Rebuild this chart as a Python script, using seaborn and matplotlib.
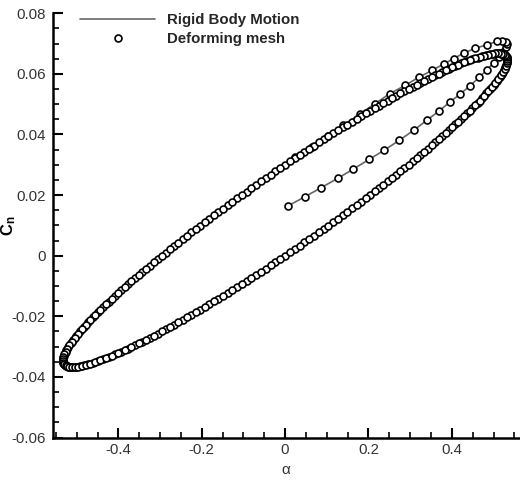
import matplotlib
matplotlib.use("Agg")
import matplotlib.pyplot as plt
import pandas as pd
import seaborn as sns
from matplotlib.ticker import MultipleLocator, FixedLocator, FixedFormatter
from matplotlib.lines import Line2D

# ---- data ----
# start-up transient and first (outer) upper branch
alpha_first = [0.008, 0.047, 0.086, 0.126, 0.164, 0.202, 0.238, 0.274, 0.308, 0.340,
               0.370, 0.396, 0.420, 0.444, 0.466, 0.485, 0.500, 0.513, 0.523, 0.530,
               0.533, 0.530, 0.521, 0.508, 0.484, 0.456, 0.428, 0.404, 0.380, 0.352,
               0.320, 0.288, 0.252, 0.216, 0.180, 0.140, 0.104, 0.064, 0.024]
cn_first = [0.0165, 0.0194, 0.0224, 0.0255, 0.0286, 0.0318, 0.0348, 0.0381, 0.0413, 0.0447,
            0.0478, 0.0508, 0.0533, 0.0561, 0.0589, 0.0614, 0.0636, 0.0656, 0.0673, 0.0687,
            0.0698, 0.0706, 0.0709, 0.0707, 0.0696, 0.0684, 0.0668, 0.0650, 0.0632, 0.0611,
            0.0588, 0.0562, 0.0535, 0.0502, 0.0468, 0.0430, 0.0396, 0.0358, 0.0324]

# periodic hysteresis loop, cycle A
alpha_loop = [
    0.0, 0.0232, 0.0465, 0.0696, 0.0925, 0.1153, 0.1379, 0.1603, 0.1823, 0.2040,
    0.2253, 0.2461, 0.2665, 0.2864, 0.3057, 0.3245, 0.3426, 0.3601, 0.3769, 0.3930,
    0.4083, 0.4229, 0.4366, 0.4495, 0.4616, 0.4728, 0.4831, 0.4924, 0.5009, 0.5083,
    0.5148, 0.5204, 0.5249, 0.5284, 0.5310, 0.5325, 0.5330,
    0.5325, 0.5310, 0.5284, 0.5249, 0.5204, 0.5148, 0.5083, 0.5009, 0.4924, 0.4831,
    0.4728, 0.4616, 0.4495, 0.4366, 0.4229, 0.4083, 0.3930, 0.3769, 0.3601, 0.3426,
    0.3245, 0.3057, 0.2864, 0.2665, 0.2461, 0.2253, 0.2040, 0.1823, 0.1603, 0.1379,
    0.1153, 0.0925, 0.0696, 0.0465, 0.0232, 0.0,
    -0.0232, -0.0465, -0.0696, -0.0925, -0.1153, -0.1379, -0.1603, -0.1823, -0.2040, -0.2253,
    -0.2461, -0.2665, -0.2864, -0.3057, -0.3245, -0.3426, -0.3601, -0.3769, -0.3930, -0.4083,
    -0.4229, -0.4366, -0.4495, -0.4616, -0.4728, -0.4831, -0.4924, -0.5009, -0.5083, -0.5148,
    -0.5204, -0.5249, -0.5284, -0.5310, -0.5325, -0.5330,
    -0.5325, -0.5310, -0.5284, -0.5249, -0.5204, -0.5148, -0.5083, -0.5009, -0.4924, -0.4831,
    -0.4728, -0.4616, -0.4495, -0.4366, -0.4229, -0.4083, -0.3930, -0.3769, -0.3601, -0.3426,
    -0.3245, -0.3057, -0.2864, -0.2665, -0.2461, -0.2253, -0.2040, -0.1823, -0.1603, -0.1379,
    -0.1153, -0.0925, -0.0696, -0.0465, -0.0232]
cn_loop = [
    0.0, 0.00217, 0.00438, 0.00659, 0.00883, 0.01108, 0.01333, 0.01558, 0.01784, 0.02009,
    0.02234, 0.02455, 0.02677, 0.02896, 0.03111, 0.03325, 0.03534, 0.0374, 0.03941, 0.04138,
    0.04329, 0.04516, 0.04697, 0.04871, 0.05038, 0.05199, 0.05354, 0.05501, 0.0564, 0.05772,
    0.05895, 0.0601, 0.06117, 0.06213, 0.06302, 0.06382, 0.06452,
    0.06512, 0.06564, 0.06605, 0.06637, 0.0666, 0.06671, 0.06674, 0.06666, 0.06649, 0.06622,
    0.06585, 0.06538, 0.06483, 0.06417, 0.06342, 0.06257, 0.06164, 0.06063, 0.05952, 0.05832,
    0.05705, 0.05569, 0.05426, 0.05275, 0.05117, 0.04952, 0.04781, 0.04604, 0.0442, 0.04231,
    0.04036, 0.03837, 0.03633, 0.03426, 0.03215, 0.03,
    0.02783, 0.02562, 0.02341, 0.02117, 0.01892, 0.01667, 0.01442, 0.01216, 0.00991, 0.00766,
    0.00545, 0.00323, 0.00104, -0.00111, -0.00325, -0.00534, -0.0074, -0.00941, -0.01138, -0.01329,
    -0.01516, -0.01697, -0.01871, -0.02038, -0.02199, -0.02354, -0.02501, -0.0264, -0.02772, -0.02895,
    -0.0301, -0.03117, -0.03213, -0.03302, -0.03382, -0.03452,
    -0.03512, -0.03564, -0.03605, -0.03637, -0.0366, -0.03671, -0.03674, -0.03666, -0.03649, -0.03622,
    -0.03585, -0.03538, -0.03483, -0.03417, -0.03342, -0.03257, -0.03164, -0.03063, -0.02952, -0.02832,
    -0.02705, -0.02569, -0.02426, -0.02275, -0.02117, -0.01952, -0.01781, -0.01604, -0.0142, -0.01231,
    -0.01036, -0.00837, -0.00633, -0.00426, -0.00215]

# periodic hysteresis loop, cycle B (samples fall between those of cycle A)
alpha_loop2 = [
    0.0116, 0.0349, 0.0580, 0.0811, 0.1040, 0.1267, 0.1491, 0.1713, 0.1932, 0.2146,
    0.2357, 0.2564, 0.2765, 0.2961, 0.3152, 0.3336, 0.3514, 0.3686, 0.3850, 0.4007,
    0.4157, 0.4298, 0.4432, 0.4557, 0.4673, 0.4780, 0.4879, 0.4968, 0.5047, 0.5117,
    0.5177, 0.5228, 0.5268, 0.5299, 0.5319, 0.5329,
    0.5329, 0.5319, 0.5299, 0.5268, 0.5228, 0.5177, 0.5117, 0.5047, 0.4968, 0.4879,
    0.4780, 0.4673, 0.4557, 0.4432, 0.4298, 0.4157, 0.4007, 0.3850, 0.3686, 0.3514,
    0.3336, 0.3152, 0.2961, 0.2765, 0.2564, 0.2357, 0.2146, 0.1932, 0.1713, 0.1491,
    0.1267, 0.1040, 0.0811, 0.0580, 0.0349, 0.0116,
    -0.0116, -0.0349, -0.0580, -0.0811, -0.1040, -0.1267, -0.1491, -0.1713, -0.1932, -0.2146,
    -0.2357, -0.2564, -0.2765, -0.2961, -0.3152, -0.3336, -0.3514, -0.3686, -0.3850, -0.4007,
    -0.4157, -0.4298, -0.4432, -0.4557, -0.4673, -0.4780, -0.4879, -0.4968, -0.5047, -0.5117,
    -0.5177, -0.5228, -0.5268, -0.5299, -0.5319, -0.5329,
    -0.5329, -0.5319, -0.5299, -0.5268, -0.5228, -0.5177, -0.5117, -0.5047, -0.4968, -0.4879,
    -0.4780, -0.4673, -0.4557, -0.4432, -0.4298, -0.4157, -0.4007, -0.3850, -0.3686, -0.3514,
    -0.3336, -0.3152, -0.2961, -0.2765, -0.2564, -0.2357, -0.2146, -0.1932, -0.1713, -0.1491,
    -0.1267, -0.1040, -0.0811, -0.0580, -0.0349, -0.0116]
cn_loop2 = [
    0.00108, 0.00327, 0.00548, 0.0077, 0.00995, 0.0122, 0.01446, 0.01672, 0.01897, 0.02121,
    0.02345, 0.02567, 0.02787, 0.03004, 0.03219, 0.03429, 0.03637, 0.0384, 0.0404, 0.04234,
    0.04423, 0.04606, 0.04785, 0.04955, 0.05119, 0.05278, 0.05429, 0.05571, 0.05707, 0.05834,
    0.05953, 0.06064, 0.06167, 0.0626, 0.06344, 0.06418,
    0.06484, 0.0654, 0.06586, 0.06623, 0.0665, 0.06667, 0.06674, 0.06671, 0.06659, 0.06637,
    0.06604, 0.06563, 0.06511, 0.06451, 0.0638, 0.06301, 0.06212, 0.06114, 0.06008, 0.05893,
    0.05769, 0.05639, 0.05498, 0.05351, 0.05197, 0.05035, 0.04867, 0.04693, 0.04512, 0.04326,
    0.04134, 0.03937, 0.03736, 0.0353, 0.03321, 0.03108,
    0.02892, 0.02673, 0.02452, 0.0223, 0.02005, 0.0178, 0.01554, 0.01328, 0.01103, 0.00879,
    0.00655, 0.00433, 0.00213, -0.00004, -0.00219, -0.00429, -0.00637, -0.0084, -0.0104, -0.01234,
    -0.01423, -0.01606, -0.01785, -0.01955, -0.02119, -0.02278, -0.02429, -0.02571, -0.02707, -0.02834,
    -0.02953, -0.03064, -0.03167, -0.0326, -0.03344, -0.03418,
    -0.03484, -0.0354, -0.03586, -0.03623, -0.0365, -0.03667, -0.03674, -0.03671, -0.03659, -0.03637,
    -0.03604, -0.03563, -0.03511, -0.03451, -0.0338, -0.03301, -0.03212, -0.03114, -0.03008, -0.02893,
    -0.02769, -0.02639, -0.02498, -0.02351, -0.02197, -0.02035, -0.01867, -0.01693, -0.01512, -0.01326,
    -0.01134, -0.00937, -0.00736, -0.0053, -0.00321, -0.00108]

xtick_values = [-0.4, -0.2, 0.0, 0.2, 0.4]
xtick_labels = ["-0.4", "-0.2", "0", "0.2", "0.4"]
ytick_values = [-0.06, -0.04, -0.02, 0.0, 0.02, 0.04, 0.06, 0.08]
ytick_labels = ["-0.06", "-0.04", "-0.02", "0", "0.02", "0.04", "0.06", "0.08"]
series_names = ["Rigid Body Motion", "Deforming mesh"]

# ---- style ----
sns.set_theme(style="ticks")
plt.rcParams["font.family"] = ["Liberation Sans", "DejaVu Sans"]
plt.rcParams["mathtext.fontset"] = "custom"
plt.rcParams["mathtext.rm"] = "Liberation Sans"
plt.rcParams["mathtext.bf"] = "Liberation Sans:bold"
plt.rcParams["mathtext.it"] = "Liberation Sans:italic"

LINE_C = "#666666"
TXT_C = "#333333"

fig = plt.figure(figsize=(5.2, 4.8), dpi=100)
ax = fig.add_axes([0.101, 0.0885, 0.897, 0.884])

df_first = pd.DataFrame({"alpha": alpha_first, "cn": cn_first})
df_loop = pd.DataFrame({"alpha": alpha_loop, "cn": cn_loop})
df_loop2 = pd.DataFrame({"alpha": alpha_loop2, "cn": cn_loop2})

def closed(d):
    return pd.concat([d, d.iloc[:1]], ignore_index=True)

for d in (df_first, closed(df_loop), closed(df_loop2)):
    sns.lineplot(data=d, x="alpha", y="cn", sort=False, estimator=None,
                 color=LINE_C, linewidth=1.2, ax=ax, zorder=2)
for d in (df_first, df_loop, df_loop2):
    sns.scatterplot(data=d, x="alpha", y="cn", marker="o", s=25,
                    color="white", edgecolor="black", linewidth=1.2,
                    ax=ax, zorder=3)

ax.set_xlim(-0.558, 0.561)
ax.set_ylim(-0.06, 0.08)
ax.xaxis.set_major_locator(FixedLocator(xtick_values))
ax.xaxis.set_major_formatter(FixedFormatter(xtick_labels))
ax.yaxis.set_major_locator(FixedLocator(ytick_values))
ax.yaxis.set_major_formatter(FixedFormatter(ytick_labels))
ax.xaxis.set_minor_locator(MultipleLocator(0.05))
ax.yaxis.set_minor_locator(MultipleLocator(0.005))

for s in ("top", "right"):
    ax.spines[s].set_visible(False)
for s in ("left", "bottom"):
    ax.spines[s].set_linewidth(1.8)
    ax.spines[s].set_color("black")

ax.tick_params(which="both", direction="in", top=False, right=False,
               color="black", labelcolor=TXT_C, labelsize=10.8)
ax.tick_params(which="major", length=7.2, width=1.5)
ax.tick_params(which="minor", length=4.6, width=1.2)
ax.tick_params(axis="x", which="major", pad=4)
ax.tick_params(axis="y", which="major", pad=5)

ax.set_xlabel("α", fontsize=11, color=TXT_C, labelpad=4)
ax.set_ylabel(r"$\mathbf{C_n}$", fontsize=12, color="black")
ax.yaxis.set_label_coords(-0.074, 0.5)

handles = [Line2D([], [], color=LINE_C, lw=1.2),
           Line2D([], [], ls="none", marker="o", ms=5.0, mfc="white",
                  mec="black", mew=1.2)]
ax.legend(handles, series_names, frameon=False, loc="upper left",
          bbox_to_anchor=(80 / 520, 467 / 480), bbox_transform=fig.transFigure,
          borderpad=0, borderaxespad=0, handlelength=5.0, handletextpad=0.8,
          labelspacing=0.36, prop={"weight": "bold", "size": 10.8})

fig.savefig("out.png", dpi=100)
